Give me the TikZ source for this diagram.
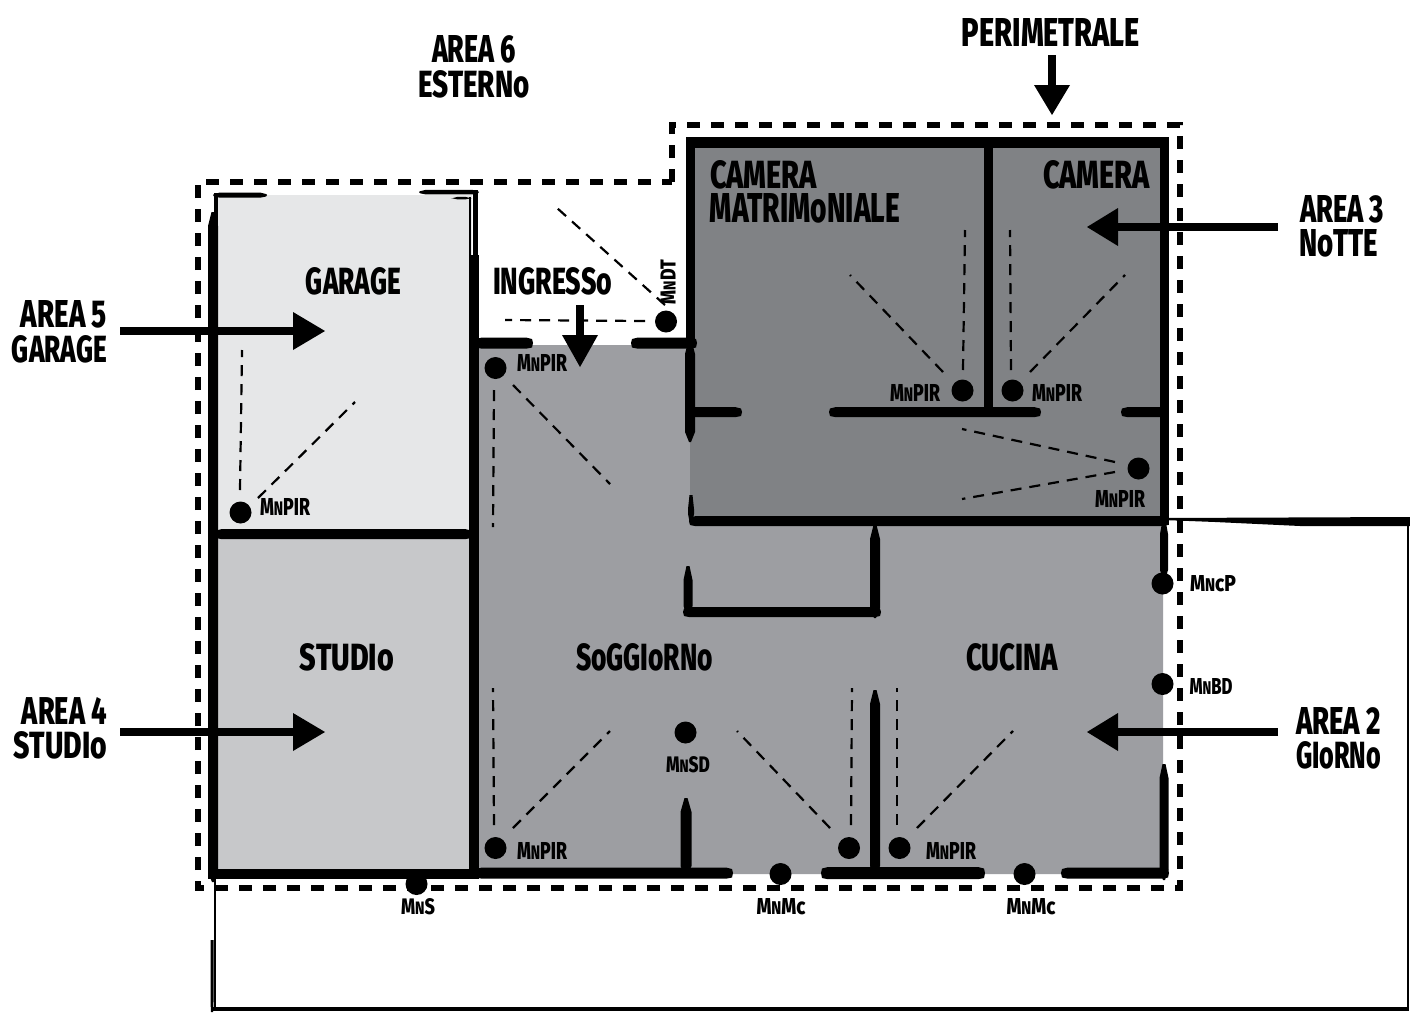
\documentclass[tikz,border=0pt]{standalone}
\usepackage{graphicx}
\usepackage{fontspec}
\setmainfont{Fira Sans}[BoldFont=* ExtraBold]
\definecolor{garagec}{HTML}{E6E7E8}
\definecolor{studioc}{HTML}{C7C8CA}
\definecolor{dayc}{HTML}{9D9EA2}
\definecolor{nightc}{HTML}{808285}
% fitted label: width, height, text
\newcommand{\fitlab}[3]{\resizebox{#1pt}{#2pt}{\bfseries #3}}
\newcommand{\smlab}[3]{\resizebox{#1pt}{#2pt}{\normalfont\fontseries{sb}\selectfont #3}}
\newcommand{\sn}{{\footnotesize N}}
% brush horizontal stroke x1 x2 y width: blunt ends with a thin ear
\newcommand{\hw}[4]{\fill[black] (#1,{#3-#4/2+1.5}) -- ({#1+6},{#3-#4/2}) -- ({#2-6},{#3-#4/2}) -- (#2,{#3-#4/2+1.5}) -- ({#2+1},#3) -- (#2,{#3+#4/2-1}) -- ({#2-5},{#3+#4/2}) -- ({#1+5},{#3+#4/2}) -- (#1,{#3+#4/2-1}) -- ({#1-1},#3) -- cycle;}
% brush vertical stroke y1 y2 x width: taper at both ends
\newcommand{\vw}[4]{\fill[black] ({#3-1.5},#1) -- ({#3+1.5},#1) -- ({#3+#4/2},{#1+14}) -- ({#3+#4/2},{#2-10}) -- ({#3+1},#2) -- ({#3-1},#2) -- ({#3-#4/2},{#2-10}) -- ({#3-#4/2},{#1+14}) -- cycle;}
% arrow: shaft start, head base, tip
\newcommand{\arrh}[4]{\draw[shaft] (#1,#4) -- (#2,#4); \fill[black] (#2,{#4-19}) -- (#3,#4) -- (#2,{#4+19}) -- cycle;}
\tikzset{
  perim/.style={draw=black,line width=5.5pt,dash pattern=on 13pt off 11pt},
  beam/.style={draw=black,line width=2.2pt,dash pattern=on 11pt off 8pt},
  shaft/.style={draw=black,line width=7.5pt},
  sensor/.style={circle,fill=black,inner sep=0pt,minimum size=22pt},
  lab/.style={inner sep=0pt,anchor=center,text=black}
}
\begin{document}
\begin{tikzpicture}[x=1pt,y=-1pt]
\useasboundingbox (0,0) rectangle (1410,1012);
\fill[white] (0,0) rectangle (1410,1012);
% room fills
\fill[garagec] (215,195) rectangle (472,533);
\fill[studioc] (215,533) rectangle (472,873);
\fill[dayc] (476,345) -- (692,345) -- (692,520) -- (1163,520) -- (1163,874) -- (476,874) -- cycle;
\fill[nightc] (690,142) rectangle (1163,521);
% perimeter
\draw[perim] (672,182) -- (672,125) -- (1180,125) -- (1180,888) -- (198,888) -- (198,182) -- cycle;
% outer loop
\fill[black] (1163,518) -- (1410,517) -- (1410,526) -- (1300,526) -- (1215,522) -- (1163,520) -- cycle;
\draw[black,line width=2pt] (1408,521) -- (1408,1009);
\draw[black,line width=3.5pt] (1409,1009) -- (213,1009);
\draw[black,line width=2pt] (215,878) -- (215,1009);
\vw{940}{1012}{212}{3}
% garage / studio walls
\vw{212}{882}{213}{10}
\draw[black,line width=4.5pt] (216,193) -- (216,245);
\hw{214}{266}{195}{5}
\hw{420}{478}{192}{4.5}
\draw[black,line width=5.5pt] (475.5,190) -- (475.5,260);
\draw[black,line width=1.5pt] (470,197) -- (470,258);
\hw{452}{471}{198}{2.5}
\fill[black] (468.5,255) rectangle (478.5,878.5);
\fill[black] (208,868.5) rectangle (478.5,878.5);
\hw{216}{471}{534}{10}
% ingresso stubs
\hw{476}{532}{343}{11}
\hw{632}{696}{343}{11}
% night zone
\fill[black] (685.5,136.5) rectangle (1168.5,147.5);
\fill[black] (685.5,136.5) rectangle (694.5,345);
\vw{340}{442}{690}{10}
\fill[black] (1159.5,136.5) rectangle (1168.5,525);
\fill[black] (983.5,145) rectangle (992.5,412);
\hw{690}{741}{412}{10}
\hw{830}{1040}{412}{10}
\hw{1122}{1166}{412}{10}
\hw{690}{1168}{521}{10}
\vw{495}{524}{691}{6}
% day zone
\vw{525}{618}{875}{10}
\hw{684}{880}{612}{10}
\vw{566}{616}{688}{9}
\vw{520}{580}{1164}{8}
\vw{764}{880}{1164}{9}
\vw{798}{876}{686}{11}
\vw{690}{876}{875}{10}
\hw{476}{732}{873}{11}
\hw{822}{984}{873}{12}
\hw{1062}{1168}{873}{11}
% detector beams
\draw[beam] (240,490) -- (242,350);
\draw[beam] (258,498) -- (355,402);
\draw[beam] (494,390) -- (493,527);
\draw[beam] (513,385) -- (610,484);
\draw[beam] (665,305) -- (557,208);
\draw[beam] (645,321) -- (505,320);
\draw[beam] (963,370) -- (965,230);
\draw[beam] (943,372) -- (850,275);
\draw[beam] (1011,370) -- (1010,230);
\draw[beam] (1030,372) -- (1125,275);
\draw[beam] (1115,462) -- (962,429);
\draw[beam] (1115,472) -- (962,499);
\draw[beam] (494,825) -- (493,688);
\draw[beam] (513,828) -- (610,731);
\draw[beam] (830,828) -- (737,731);
\draw[beam] (851,825) -- (852,688);
\draw[beam] (897,825) -- (897,688);
\draw[beam] (917,828) -- (1013,731);
% sensors
\node[sensor] (s1) at (240.5,512.5) {};
\node[sensor] (s2) at (495.5,368) {};
\node[sensor] (s3) at (666,321.5) {};
\node[sensor] (s4) at (962.5,390.5) {};
\node[sensor] (s5) at (1012.5,390.5) {};
\node[sensor] (s6) at (1138.5,468.5) {};
\node[sensor] (s7) at (1162.5,583.5) {};
\node[sensor] (s8) at (1162.5,684) {};
\node[sensor] (s9) at (685.5,732.5) {};
\node[sensor] (s10) at (495.5,848) {};
\node[sensor] (s11) at (849,848) {};
\node[sensor] (s12) at (899.5,848) {};
\node[sensor] (s13) at (416.5,884) {};
\node[sensor] (s14) at (780.5,874) {};
\node[sensor] (s15) at (1024.5,874) {};
% area arrows
\arrh{120}{293}{325}{331}
\arrh{120}{293}{325}{732}
\arrh{1278}{1118}{1087}{227}
\arrh{1278}{1118}{1087}{732}
\draw[shaft] (1052,55) -- (1052,86);
\fill[black] (1034,85) -- (1052,115) -- (1070,85) -- cycle;
\draw[shaft] (580,305) -- (580,336);
\fill[black] (562,335) -- (580,367) -- (598,335) -- cycle;
% large labels
\node[lab] (t1) at (474,49) {\fitlab{84}{27}{AREA 6}};
\node[lab] (t2) at (474,84) {\fitlab{111}{27}{ESTERNo}};
\node[lab] (t3) at (1051,32) {\fitlab{178}{28}{PERIMETRALE}};
\node[lab] (t4) at (763.5,175) {\fitlab{107}{28}{CAMERA}};
\node[lab] (t5) at (805,208) {\fitlab{190}{29}{MATRIMoNIALE}};
\node[lab] (t6) at (1096.5,175) {\fitlab{107}{28}{CAMERA}};
\node[lab] (t7) at (1342,209) {\fitlab{84}{27}{AREA 3}};
\node[lab] (t8) at (1338.5,243) {\fitlab{79}{27}{NoTTE}};
\node[lab] (t9) at (64,314) {\fitlab{86}{27}{AREA 5}};
\node[lab] (t10) at (59.5,349) {\fitlab{95}{27}{GARAGE}};
\node[lab] (t11) at (353.5,281) {\fitlab{95}{27}{GARAGE}};
\node[lab] (t12) at (552.5,281) {\fitlab{119}{27}{INGRESSo}};
\node[lab] (t13) at (347,657) {\fitlab{94}{27}{STUDIo}};
\node[lab] (t14) at (644.5,657) {\fitlab{137}{27}{SoGGIoRNo}};
\node[lab] (t15) at (1012,657) {\fitlab{92}{27}{CUCINA}};
\node[lab] (t16) at (64.5,711) {\fitlab{85}{27}{AREA 4}};
\node[lab] (t17) at (60.5,745) {\fitlab{93}{27}{STUDIo}};
\node[lab] (t18) at (1338.5,721) {\fitlab{85}{27}{AREA 2}};
\node[lab] (t19) at (1338.5,755) {\fitlab{85}{27}{GIoRNo}};
% small labels
\node[lab] (m1) at (285,507) {\smlab{50}{17}{M\sn PIR}};
\node[lab] (m2) at (542,363) {\smlab{50}{17}{M\sn PIR}};
\node[lab,rotate=90] (m3) at (668,282) {\smlab{44}{15}{M\sn DT}};
\node[lab] (m4) at (915,393) {\smlab{50}{17}{M\sn PIR}};
\node[lab] (m5) at (1057,393) {\smlab{50}{17}{M\sn PIR}};
\node[lab] (m6) at (1120,499) {\smlab{50}{17}{M\sn PIR}};
\node[lab] (m7) at (1213,584) {\smlab{46}{16}{M\sn cP}};
\node[lab] (m8) at (1211,686) {\smlab{43}{16}{M\sn BD}};
\node[lab] (m9) at (688,765) {\smlab{44}{16}{M\sn SD}};
\node[lab] (m10) at (542,851) {\smlab{50}{17}{M\sn PIR}};
\node[lab] (m11) at (951,851) {\smlab{50}{17}{M\sn PIR}};
\node[lab] (m12) at (418,907) {\smlab{34}{16}{M\sn S}};
\node[lab] (m13) at (781,907) {\smlab{49}{16}{M\sn Mc}};
\node[lab] (m14) at (1031,907) {\smlab{49}{16}{M\sn Mc}};
\end{tikzpicture}
\end{document}
